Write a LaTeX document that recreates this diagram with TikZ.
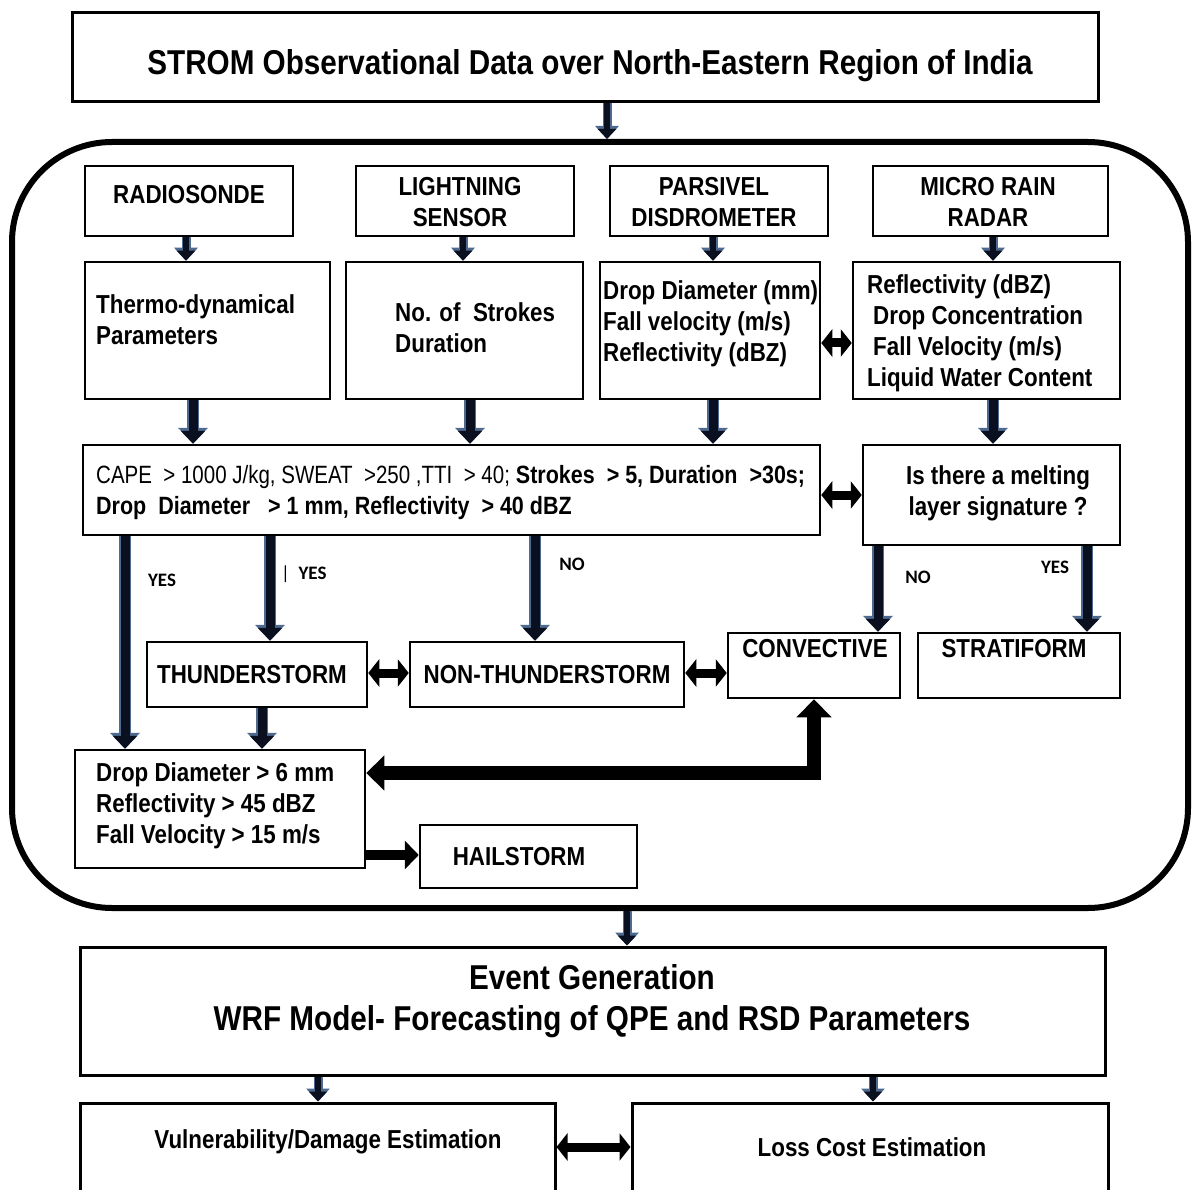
\documentclass[tikz,border=0pt]{standalone}
\usepackage{fontspec}
\setmainfont{Liberation Sans}[FakeStretch=0.86]
\newfontfamily\capefont{Liberation Sans}[FakeStretch=0.82]
\newfontfamily\labfont{Carlito}
\usetikzlibrary{arrows.meta}
\definecolor{arrnavy}{HTML}{0B1020}
\definecolor{arredge}{HTML}{4E6A8E}
\newcommand\fsz[2]{\fontsize{#1}{#2}\selectfont}
\begin{document}
\begin{tikzpicture}[x=1pt,y=-1pt,
  box/.style={draw=black, line width=2.5pt, rectangle, inner sep=0pt},
  txt/.style={inner sep=0pt, font=\bfseries\fsz{26}{31}},
  ttl/.style={inner sep=0pt, font=\bfseries\fsz{34.5}{41}},
  sarr/.style={draw=arrnavy, line width=6pt, -{Triangle[width=18pt,length=10pt]},
    preaction={draw=arredge, line width=9pt, -{Triangle[width=23pt,length=13pt]}}},
  barr/.style={draw=arrnavy, line width=9pt, -{Triangle[width=24pt,length=13pt]},
    preaction={draw=arredge, line width=12pt, -{Triangle[width=29pt,length=16pt]}}},
  darr/.style={draw=black, line width=9pt, {Triangle[width=27pt,length=11pt]}-{Triangle[width=27pt,length=11pt]}},
  harr/.style={draw=black, line width=14pt, {Triangle[width=34pt,length=18pt]}-{Triangle[width=34pt,length=18pt]}},
  farr/.style={draw=black, line width=10pt, -{Triangle[width=28pt,length=14pt]}},
  lab/.style={inner sep=0pt, font=\labfont\bfseries\fsz{19}{21}}]
\clip (0,0) rectangle (1192,1190);
\fill[white] (0,0) rectangle (1192,1190);

% boxes
\node[box, line width=3pt, minimum width=1026pt, minimum height=89pt] (top) at (585,57.5) {};
\node[draw=black, line width=6pt, rounded corners=100pt, minimum width=1176pt, minimum height=766pt, inner sep=0pt] (frame) at (600,525) {};
\node[box, minimum width=208pt, minimum height=70pt] (radio) at (189,201) {};
\node[box, minimum width=218pt, minimum height=70pt] (light) at (465,201) {};
\node[box, minimum width=218pt, minimum height=70pt] (pars) at (719,201) {};
\node[box, minimum width=235pt, minimum height=70pt] (mrr) at (990.5,201) {};
\node[box, minimum width=245pt, minimum height=137pt] (thermo) at (207.5,330.5) {};
\node[box, minimum width=237pt, minimum height=137pt] (strokes) at (464.5,330.5) {};
\node[box, minimum width=220pt, minimum height=137pt] (dropb) at (710,330.5) {};
\node[box, minimum width=267pt, minimum height=137pt] (reflb) at (986.5,330.5) {};
\node[box, minimum width=737pt, minimum height=90pt] (cape) at (451.5,490) {};
\node[box, minimum width=257pt, minimum height=100pt] (melt) at (991.5,495) {};
\node[box, minimum width=220pt, minimum height=65pt] (thunder) at (257,674.5) {};
\node[box, minimum width=274pt, minimum height=65pt] (nonth) at (547,674.5) {};
\node[box, minimum width=172pt, minimum height=65pt] (conv) at (814,665.5) {};
\node[box, minimum width=202pt, minimum height=65pt] (strat) at (1019,665.5) {};
\node[box, minimum width=290pt, minimum height=118pt] (hailc) at (220,809) {};
\node[box, minimum width=217pt, minimum height=63pt] (hail) at (528.5,856.5) {};
\node[box, line width=3pt, minimum width=1025pt, minimum height=128pt] (event) at (592.5,1011) {};
\node[box, line width=3pt, minimum width=475pt, minimum height=100pt] (vuln) at (317.5,1153) {};
\node[box, line width=3pt, minimum width=476pt, minimum height=100pt] (loss) at (870,1153) {};

% texts
\node[ttl] (t-top) at (590,66) {STROM Observational Data over North-Eastern Region of India};
\node[txt] (t-radio) at (189,195) {RADIOSONDE};
\node[txt, align=center] (t-light) at (460,202) {LIGHTNING\\SENSOR};
\node[txt, align=center] (t-pars) at (714,202) {PARSIVEL\\DISDROMETER};
\node[txt, align=center] (t-mrr) at (988,202) {MICRO RAIN\\RADAR};
\node[txt, align=left, anchor=west] (t-thermo) at (96,320) {Thermo-dynamical\\Parameters};
\node[txt, align=left, anchor=west] (t-strokes) at (395,328) {No. of~~Strokes\\Duration};
\node[txt, align=left, anchor=west] (t-drop) at (603,324) {Drop Diameter (mm)\\Fall velocity (m/s)\\Reflectivity (dBZ)};
\node[txt, align=left, anchor=west] (t-refl) at (867,333) {Reflectivity (dBZ)\\\hspace*{6pt}Drop Concentration\\\hspace*{6pt}Fall Velocity (m/s)\\Liquid Water Content};
\node[txt, align=left, anchor=west, font=\bfseries\fsz{25}{31}] (t-cape) at (96,493)
  {{\capefont\mdseries CAPE~~> 1000 J/kg, SWEAT~~>250 ,TTI~~> 40;} Strokes~~> 5, Duration~~>30s;\\Drop~~Diameter~~~> 1 mm, Reflectivity~~> 40 dBZ};
\node[txt, align=center] (t-melt) at (998,493) {Is there a melting\\layer signature ?};
\node[txt] (t-thunder) at (252,675) {THUNDERSTORM};
\node[txt] (t-nonth) at (547,675) {NON-THUNDERSTORM};
\node[txt] (t-conv) at (815,649) {CONVECTIVE};
\node[txt] (t-strat) at (1014,649) {STRATIFORM};
\node[txt, align=left, anchor=west] (t-hailc) at (96,806) {Drop Diameter > 6 mm\\Reflectivity > 45 dBZ\\Fall Velocity > 15 m/s};
\node[txt] (t-hail) at (519,857) {HAILSTORM};
\node[ttl, align=center] (t-event) at (592,1001) {Event Generation\\WRF Model- Forecasting of QPE and RSD Parameters};
\node[txt, font=\bfseries\fsz{26}{30}] (t-vuln) at (328,1142) {Vulnerability/Damage Estimation};
\node[txt, font=\bfseries\fsz{26}{30}] (t-loss) at (872,1147) {Loss Cost Estimation};

% labels
\node[lab] (l-yes1) at (162,580) {YES};
\node[lab, anchor=west] (l-yes2) at (281,574) {{\mdseries|}~~YES};
\node[lab] (l-no1) at (572,564) {NO};
\node[lab] (l-no2) at (918,577) {NO};
\node[lab] (l-yes3) at (1055,567) {YES};

% connectors
\draw[sarr] (607,0 |- top.south) -- (607,0 |- frame.north);
\draw[sarr] (186,0 |- radio.south) -- (186,0 |- thermo.north);
\draw[sarr] (463,0 |- light.south) -- (463,0 |- strokes.north);
\draw[sarr] (713,0 |- pars.south) -- (713,0 |- dropb.north);
\draw[sarr] (993,0 |- mrr.south) -- (993,0 |- reflb.north);
\draw[barr] (193,0 |- thermo.south) -- (193,0 |- cape.north);
\draw[barr] (470,0 |- strokes.south) -- (470,0 |- cape.north);
\draw[barr] (713,0 |- dropb.south) -- (713,0 |- cape.north);
\draw[barr] (993,0 |- reflb.south) -- (993,0 |- melt.north);
\draw[darr] (dropb.east |- 0,343) -- (reflb.west |- 0,343);
\draw[darr] (cape.east |- 0,495) -- (melt.west |- 0,495);
\draw[barr] (125,0 |- cape.south) -- (125,0 |- hailc.north);
\draw[barr] (270,0 |- cape.south) -- (270,0 |- thunder.north);
\draw[barr] (535,0 |- cape.south) -- (535,0 |- nonth.north);
\draw[barr] (878,0 |- melt.south) -- (878,0 |- conv.north);
\draw[barr] (1087,0 |- melt.south) -- (1087,0 |- strat.north);
\draw[darr] (thunder.east |- 0,673) -- (nonth.west |- 0,673);
\draw[darr] (nonth.east |- 0,673) -- (conv.west |- 0,673);
\draw[barr] (262,0 |- thunder.south) -- (262,0 |- hailc.north);
\draw[harr] (conv.south) |- (hailc.east |- 0,773);
\draw[farr] (hailc.east |- 0,855) -- (hail.west |- 0,855);
\draw[sarr] (627,0 |- frame.south) -- (627,0 |- event.north);
\draw[sarr] (318,0 |- event.south) -- (318,0 |- vuln.north);
\draw[sarr] (873,0 |- event.south) -- (873,0 |- loss.north);
\draw[darr] (vuln.east |- 0,1147) -- (loss.west |- 0,1147);
\end{tikzpicture}
\end{document}
